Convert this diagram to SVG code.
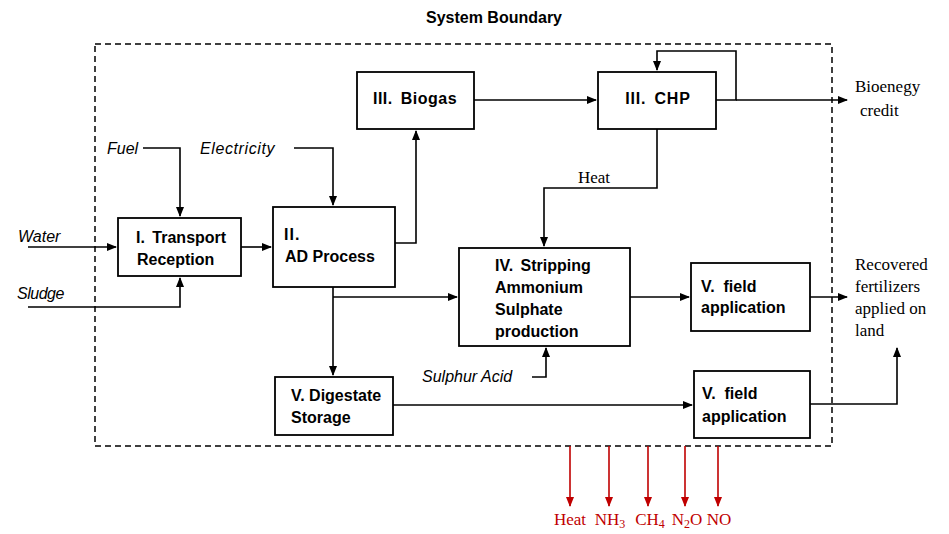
<svg xmlns="http://www.w3.org/2000/svg" width="949" height="534" viewBox="0 0 949 534">
<defs>
<marker id="ah" markerWidth="10" markerHeight="8" refX="9" refY="4" orient="auto" markerUnits="userSpaceOnUse"><path d="M0,0 L10,4 L0,8 Z" fill="#000"/></marker>
<marker id="ahr" markerWidth="10" markerHeight="8" refX="9" refY="4" orient="auto" markerUnits="userSpaceOnUse"><path d="M0,0 L10,4 L0,8 Z" fill="#c00000"/></marker>
</defs>
<style>
.box{fill:#fff;stroke:#000;stroke-width:1.8}
.nt{font-family:"Liberation Sans",Arial,sans-serif;font-weight:bold;font-size:16px;fill:#000}
.nw{word-spacing:3px}
.it{font-family:"Liberation Sans",Arial,sans-serif;font-style:italic;font-size:16px;fill:#000}
.sf{font-family:"Liberation Serif","Times New Roman",serif;font-size:17px;fill:#000}
.rd{font-family:"Liberation Serif","Times New Roman",serif;font-size:17px;fill:#c00000}
.c{fill:none;stroke:#000;stroke-width:1.6}
.r{fill:none;stroke:#c00000;stroke-width:1.6}
</style>
<rect width="949" height="534" fill="#fff"/>
<text x="494" y="23" class="nt" text-anchor="middle">System Boundary</text>
<rect x="95" y="44" width="737" height="402" fill="none" stroke="#000" stroke-width="1.5" stroke-dasharray="6,4"/>
<g id="connectors">
<path class="c" d="M143,148 H180 V216" marker-end="url(#ah)"/>
<path class="c" d="M294,148 H333 V205" marker-end="url(#ah)"/>
<path class="c" d="M28,247 H116" marker-end="url(#ah)"/>
<path class="c" d="M28,307 H180 V278" marker-end="url(#ah)"/>
<path class="c" d="M241,247 H271" marker-end="url(#ah)"/>
<path class="c" d="M395,243 H416 V131" marker-end="url(#ah)"/>
<path class="c" d="M474,100 H596" marker-end="url(#ah)"/>
<path class="c" d="M716,100 H736 V51 H657 V70" marker-end="url(#ah)"/>
<path class="c" d="M736,100 H847" marker-end="url(#ah)"/>
<path class="c" d="M657,129 V188 H544 V246" marker-end="url(#ah)"/>
<path class="c" d="M333,287 V375" marker-end="url(#ah)"/>
<path class="c" d="M333,297 H457" marker-end="url(#ah)"/>
<path class="c" d="M532,377 H546 V348" marker-end="url(#ah)"/>
<path class="c" d="M630,297 H689" marker-end="url(#ah)"/>
<path class="c" d="M810,297 H847" marker-end="url(#ah)"/>
<path class="c" d="M393,405 H692" marker-end="url(#ah)"/>
<path class="c" d="M810,404 H897 V348" marker-end="url(#ah)"/>
<path class="r" d="M570,446 V506" marker-end="url(#ahr)"/>
<path class="r" d="M609,446 V506" marker-end="url(#ahr)"/>
<path class="r" d="M648,446 V506" marker-end="url(#ahr)"/>
<path class="r" d="M685,446 V506" marker-end="url(#ahr)"/>
<path class="r" d="M718,446 V506" marker-end="url(#ahr)"/>
</g>
<g id="labels">
<text x="107" y="154" class="it">Fuel</text>
<text x="200" y="154" class="it" letter-spacing="0.6">Electricity</text>
<text x="18" y="242" class="it">Water</text>
<text x="17" y="299" class="it" letter-spacing="-0.5">Sludge</text>
<text x="422" y="382" class="it">Sulphur Acid</text>
<text x="578" y="183" class="sf">Heat</text>
<text x="855" y="92" class="sf">Bioenegy</text>
<text x="860" y="116" class="sf">credit</text>
<text class="sf"><tspan x="855" y="270">Recovered</tspan><tspan x="855" y="292">fertilizers</tspan><tspan x="855" y="314">applied on</tspan><tspan x="855" y="336">land</tspan></text>
<text x="570" y="525" class="rd" text-anchor="middle">Heat</text>
<text x="610" y="525" class="rd" text-anchor="middle">NH<tspan font-size="12" dy="3">3</tspan></text>
<text x="650" y="525" class="rd" text-anchor="middle">CH<tspan font-size="12" dy="3">4</tspan></text>
<text x="687" y="525" class="rd" text-anchor="middle">N<tspan font-size="12" dy="3">2</tspan><tspan dy="-3">O</tspan></text>
<text x="719" y="525" class="rd" text-anchor="middle">NO</text>
</g>
<g id="transport"><rect class="box" x="118" y="218" width="123" height="58"/><text class="nt nw"><tspan x="136" y="243">I. Transport</tspan><tspan x="137" y="265">Reception</tspan></text></g>
<g id="ad"><rect class="box" x="273" y="207" width="122" height="80"/><text class="nt"><tspan x="284" y="240" letter-spacing="1">II.</tspan><tspan x="285" y="262">AD Process</tspan></text></g>
<g id="biogas"><rect class="box" x="357" y="72" width="117" height="57"/><text class="nt nw" x="415" y="104" text-anchor="middle" letter-spacing="0.5">III. Biogas</text></g>
<g id="chp"><rect class="box" x="598" y="72" width="118" height="57"/><text class="nt nw" x="658" y="104" text-anchor="middle" letter-spacing="0.8">III. CHP</text></g>
<g id="stripping"><rect class="box" x="459" y="248" width="171" height="98"/><text class="nt"><tspan x="495" y="271" class="nw">IV. Stripping</tspan><tspan x="495" y="293">Ammonium</tspan><tspan x="495" y="315">Sulphate</tspan><tspan x="495" y="337">production</tspan></text></g>
<g id="field1"><rect class="box" x="691" y="263" width="119" height="68"/><text class="nt"><tspan x="701" y="292" xml:space="preserve">V.  field</tspan><tspan x="701" y="313">application</tspan></text></g>
<g id="field2"><rect class="box" x="694" y="371" width="116" height="67"/><text class="nt"><tspan x="702" y="399" xml:space="preserve">V.  field</tspan><tspan x="702" y="422">application</tspan></text></g>
<g id="digestate"><rect class="box" x="275" y="377" width="118" height="58"/><text class="nt"><tspan x="291" y="401">V. Digestate</tspan><tspan x="291" y="423">Storage</tspan></text></g>
</svg>
